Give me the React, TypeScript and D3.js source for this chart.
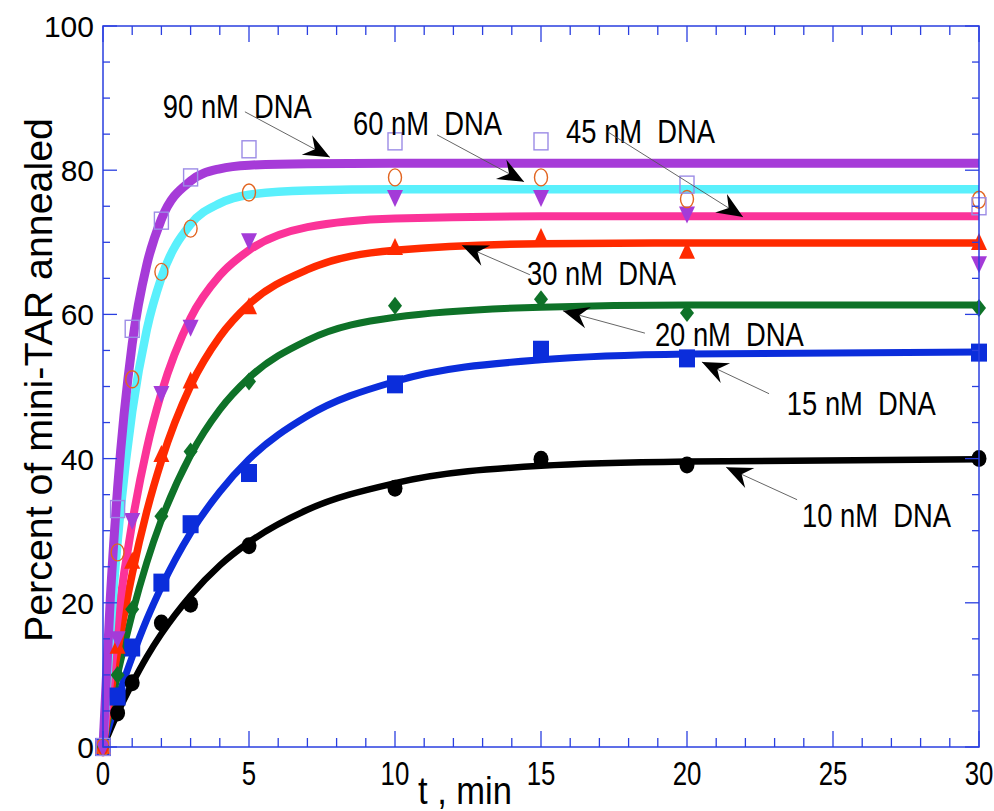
import React from "react";
import * as d3 from "d3";

// Sampling times (min) of the annealing measurements
const sampleTimes = [0, 0.5, 1, 2, 3, 5, 10, 15, 20, 30];

// Measured percent of mini-TAR annealed for each DNA concentration
const obs10 = [0, 4.7, 8.9, 17.2, 19.8, 27.9, 35.9, 39.9, 39.1, 40.0];
const obs15 = [0, 7.0, 13.8, 22.8, 30.9, 38.0, 50.3, 55.1, 53.9, 54.7];
const obs20 = [0, 10.0, 19.1, 32.0, 41.0, 50.7, 61.2, 62.1, 60.2, 60.9];
const obs30 = [0, 13.9, 25.7, 40.5, 50.7, 61.0, 69.2, 70.6, 68.7, 69.9];
const obs45 = [0, 15.1, 31.5, 49.1, 58.3, 70.3, 76.3, 76.3, 74.0, 67.1];
const obs60 = [0, 27.0, 51.0, 65.9, 71.9, 76.9, 79.0, 79.0, 76.0, 75.9];
const obs90 = [0, 33.0, 58.0, 73.0, 79.0, 82.9, 84.0, 84.0, 78.0, 75.0];

// Fitted kinetic curves, tabulated at these times
const fitTimes = [0, 0.25, 0.5, 1, 1.5, 2, 3, 4, 5, 7, 10, 15, 20, 30];
const fit10 = [0, 2.4, 4.7, 8.8, 12.5, 15.7, 21.0, 25.2, 28.4, 32.9, 36.6, 39.0, 39.6, 39.9];
const fit15 = [0, 3.5, 6.7, 12.5, 17.7, 22.2, 29.7, 35.4, 39.9, 45.9, 50.7, 53.7, 54.5, 54.8];
const fit20 = [0, 5.3, 10.1, 18.5, 25.6, 31.5, 40.5, 46.8, 51.2, 56.4, 59.6, 61.0, 61.3, 61.3];
const fit30 = [0, 7.0, 13.2, 24.0, 32.7, 39.7, 50.1, 56.9, 61.4, 66.2, 68.9, 69.8, 69.9, 69.9];
const fit45 = [0, 9.4, 17.7, 31.1, 41.4, 49.1, 59.5, 65.4, 68.9, 72.1, 73.3, 73.6, 73.6, 73.6];
const fit60 = [0, 15.9, 28.5, 46.5, 57.9, 65.1, 72.5, 75.4, 76.6, 77.2, 77.35, 77.35, 77.35, 77.35];
const fit90 = [0, 20.6, 35.9, 55.9, 66.9, 73.2, 78.5, 80.2, 80.7, 80.9, 80.95, 80.95, 80.95, 80.95];

// Axis ticks
const xMajorTicks = [0, 5, 10, 15, 20, 25, 30];
const yMajorTicks = [0, 20, 40, 60, 80, 100];

// Curve labels
const labelTexts = ["10 nM  DNA", "15 nM  DNA", "20 nM  DNA", "30 nM  DNA", "45 nM  DNA", "60 nM  DNA", "90 nM  DNA"];

type Marker = "circle" | "square" | "diamond" | "triUp" | "triDown" | "openCircle" | "openSquare";

const series = [
  { obs: obs10, fit: fit10, line: "#000000", marker: "circle" as Marker, mColor: "#000000", width: 6.5 },
  { obs: obs15, fit: fit15, line: "#0b2ddb", marker: "square" as Marker, mColor: "#0b2ddb", width: 7 },
  { obs: obs20, fit: fit20, line: "#0e7228", marker: "diamond" as Marker, mColor: "#0e7228", width: 7 },
  { obs: obs30, fit: fit30, line: "#ff2a00", marker: "triUp" as Marker, mColor: "#ff2a00", width: 7.5 },
  { obs: obs45, fit: fit45, line: "#fb3399", marker: "triDown" as Marker, mColor: "#a43bd8", width: 8 },
  { obs: obs60, fit: fit60, line: "#5af0fc", marker: "openCircle" as Marker, mColor: "#e2641f", width: 8.5 },
  { obs: obs90, fit: fit90, line: "#a63bd8", marker: "openSquare" as Marker, mColor: "#9c8ce6", width: 9 },
];

// Label anchor and arrow (start -> tip) in data coordinates (t, percent)
const annotations = [
  { text: labelTexts[6], at: [2.05, 87.2], from: [4.86, 88.1], to: [7.77, 81.8] },
  { text: labelTexts[5], at: [8.56, 84.9], from: [11.44, 84.9], to: [14.42, 78.4] },
  { text: labelTexts[4], at: [15.86, 83.8], from: [17.29, 85.3], to: [21.92, 73.5] },
  { text: labelTexts[3], at: [14.52, 64.1], from: [14.62, 65.5], to: [12.29, 69.6] },
  { text: labelTexts[2], at: [18.9, 55.6], from: [18.56, 57.4], to: [15.75, 60.5] },
  { text: labelTexts[1], at: [23.42, 46.0], from: [22.81, 49.0], to: [20.51, 53.4] },
  { text: labelTexts[0], at: [23.94, 30.5], from: [23.77, 34.3], to: [21.34, 38.8] },
];

const W = 994;
const H = 811;
const FONT = "'Liberation Sans', Arial, Helvetica, sans-serif";
const AXIS = "#2a3fe0";

function MarkerShape({ kind, x, y, color }: { kind: Marker; x: number; y: number; color: string }) {
  switch (kind) {
    case "circle":
      return <ellipse cx={x} cy={y} rx={7.5} ry={8.5} fill={color} />;
    case "square":
      return <rect x={x - 8} y={y - 9} width={16} height={18} fill={color} />;
    case "diamond":
      return <path d={`M${x},${y - 9} L${x + 7},${y} L${x},${y + 9} L${x - 7},${y} Z`} fill={color} />;
    case "triUp":
      return <path d={`M${x},${y - 10} L${x + 8},${y + 7} L${x - 8},${y + 7} Z`} fill={color} />;
    case "triDown":
      return <path d={`M${x - 8},${y - 7} L${x + 8},${y - 7} L${x},${y + 10} Z`} fill={color} />;
    case "openCircle":
      return <ellipse cx={x} cy={y} rx={6.5} ry={8.5} fill="none" stroke={color} strokeWidth={1.4} />;
    case "openSquare":
      return <rect x={x - 7} y={y - 8.5} width={14} height={17} fill="none" stroke={color} strokeWidth={1.4} />;
  }
  return null;
}

export default function App() {
  const x = d3.scaleLinear().domain([0, 30]).range([103, 979]);
  const y = d3.scaleLinear().domain([0, 100]).range([747, 26]);

  const line = d3
    .line<[number, number]>()
    .x((d) => x(d[0]))
    .y((d) => y(d[1]))
    .curve(d3.curveMonotoneX);

  const xMinor = d3.range(0, 31, 1);
  const yMinor = d3.range(0, 101, 5);

  const [x0, x1] = x.range();
  const [yb, yt] = y.range();

  return (
    <svg
      width={W}
      height={H}
      viewBox={`0 0 ${W} ${H}`}
      style={{ position: "absolute", left: 0, top: 0, background: "#fff" }}
    >
      <rect x={0} y={0} width={W} height={H} fill="#fff" />

      {/* fitted curves */}
      {series.map((s, i) => (
        <path
          key={`fit-${i}`}
          d={line(fitTimes.map((t, j) => [t, s.fit[j]] as [number, number])) || ""}
          fill="none"
          stroke={s.line}
          strokeWidth={s.width}
          strokeLinejoin="round"
          strokeLinecap="butt"
        />
      ))}

      {/* observations */}
      {series.map((s, i) => (
        <g key={`obs-${i}`}>
          {sampleTimes.map((t, j) => (
            <MarkerShape key={j} kind={s.marker} x={x(t)} y={y(s.obs[j])} color={s.mColor} />
          ))}
        </g>
      ))}

      {/* frame */}
      <rect x={x0} y={yt} width={x1 - x0} height={yb - yt} fill="none" stroke={AXIS} strokeWidth={1.5} />

      {/* x ticks, bottom and top */}
      {xMinor.map((t) => {
        const major = t % 5 === 0;
        const len = major ? 16 : 9;
        return (
          <g key={`xt-${t}`} stroke={AXIS} strokeWidth={1.3}>
            <line x1={x(t)} x2={x(t)} y1={yb} y2={yb - len} />
            <line x1={x(t)} x2={x(t)} y1={yt} y2={yt + len} />
          </g>
        );
      })}
      {/* y ticks, left and right */}
      {yMinor.map((v) => {
        const major = v % 20 === 0;
        const len = major ? 14 : 7;
        return (
          <g key={`yt-${v}`} stroke={AXIS} strokeWidth={1.3}>
            <line x1={x0} x2={x0 + len} y1={y(v)} y2={y(v)} />
            <line x1={x1} x2={x1 - len} y1={y(v)} y2={y(v)} />
          </g>
        );
      })}

      {/* tick labels */}
      {xMajorTicks.map((t) => (
        <text
          key={`xl-${t}`}
          x={x(t)}
          y={785}
          textAnchor="middle"
          fontFamily={FONT}
          fontSize={34}
          transform={`translate(${x(t)},0) scale(0.76,1) translate(${-x(t)},0)`}
        >
          {t}
        </text>
      ))}
      {yMajorTicks.map((v) => (
        <text
          key={`yl-${v}`}
          x={94}
          y={y(v) + 11}
          textAnchor="end"
          fontFamily={FONT}
          fontSize={30}
        >
          {v}
        </text>
      ))}

      {/* axis titles */}
      <text
        x={0}
        y={0}
        transform={`translate(52,380) rotate(-90)`}
        textAnchor="middle"
        fontFamily={FONT}
        fontSize={38}
        textLength={524}
        lengthAdjust="spacingAndGlyphs"
      >
        Percent of mini-TAR annealed
      </text>
      <text
        x={418}
        y={804}
        fontFamily={FONT}
        fontSize={38}
        textLength={94}
        lengthAdjust="spacingAndGlyphs"
        style={{ whiteSpace: "pre" }}
      >
        {"t , min"}
      </text>

      {/* curve labels with arrows */}
      {annotations.map((a, i) => {
        const sx = x(a.from[0]);
        const sy = y(a.from[1]);
        const tx = x(a.to[0]);
        const ty = y(a.to[1]);
        const ang = (Math.atan2(ty - sy, tx - sx) * 180) / Math.PI;
        return (
          <g key={`ann-${i}`}>
            <text
              x={x(a.at[0])}
              y={y(a.at[1])}
              fontFamily={FONT}
              fontSize={34}
              textLength={149}
              lengthAdjust="spacingAndGlyphs"
              style={{ whiteSpace: "pre" }}
            >
              {a.text}
            </text>
            <line x1={sx} y1={sy} x2={tx} y2={ty} stroke="#555" strokeWidth={0.9} />
            <path
              d="M0,0 L-26,-11 L-17,0 L-26,11 Z"
              fill="#000"
              transform={`translate(${tx},${ty}) rotate(${ang})`}
            />
          </g>
        );
      })}
    </svg>
  );
}
